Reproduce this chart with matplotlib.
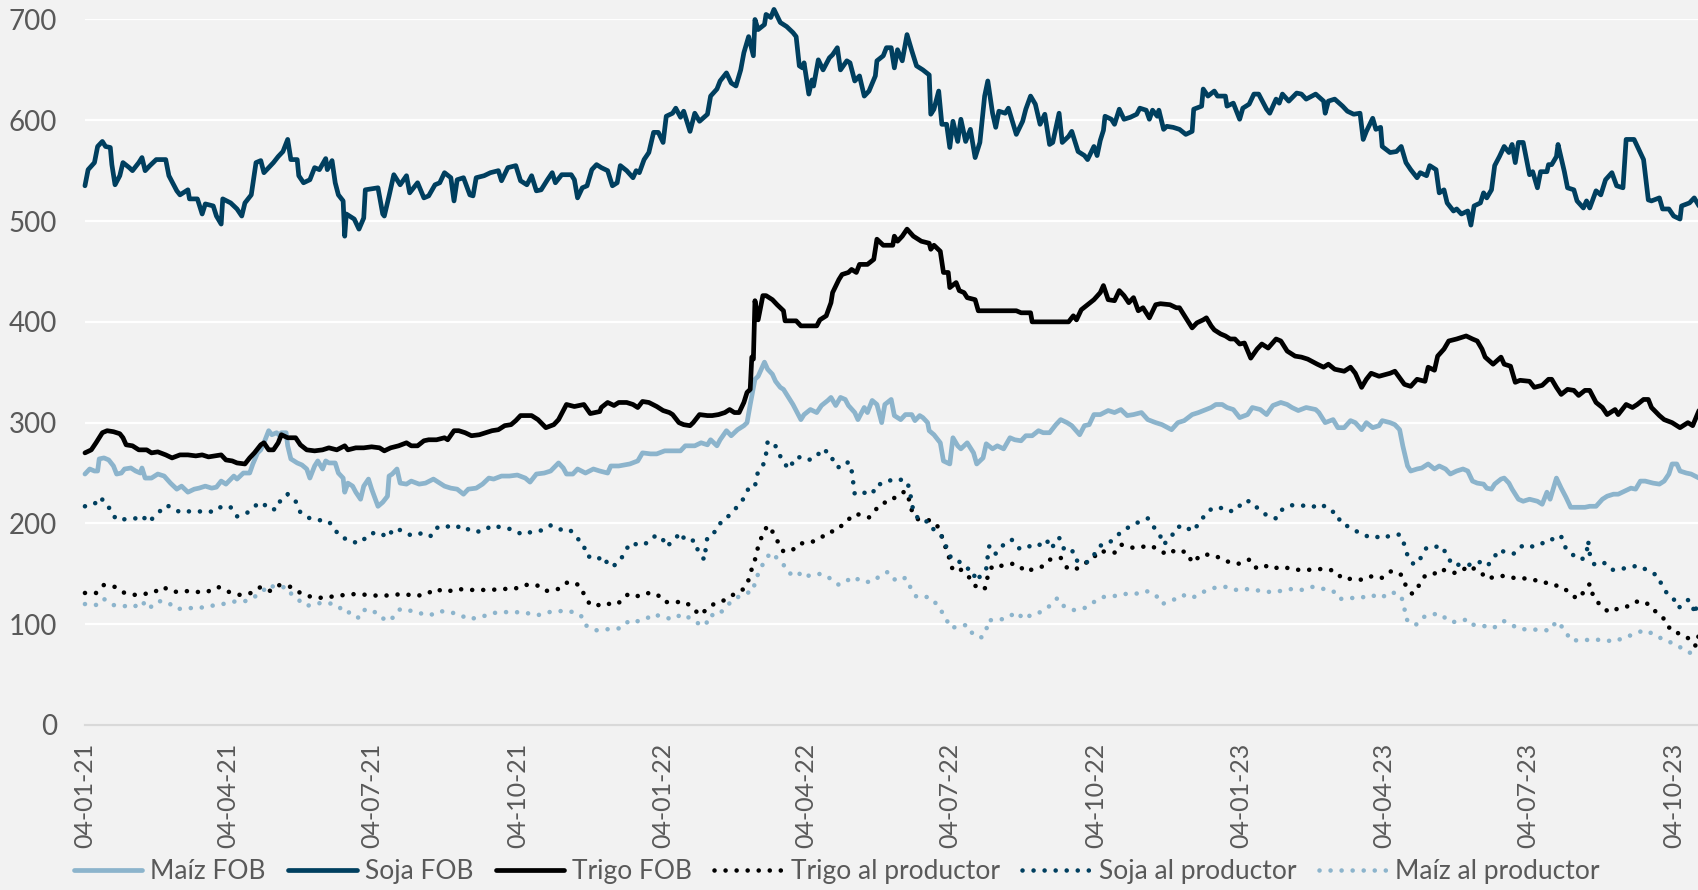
import pandas as pd
import matplotlib
matplotlib.use('Agg')
import matplotlib.pyplot as plt

plt.rcParams['font.family'] = ['Lato', 'DejaVu Sans']

#==========================
# DATOS (dias desde 04-01-21, US$/t)
#==========================
inicio = pd.Timestamp('2021-01-04')
ultimo_dia = 1019

etiquetas_x = ['04-01-21', '04-04-21', '04-07-21', '04-10-21', '04-01-22', '04-04-22',
               '04-07-22', '04-10-22', '04-01-23', '04-04-23', '04-07-23', '04-10-23']
ticks_y = [0, 100, 200, 300, 400, 500, 600, 700]

maiz_fob = [(0,249),(3,254),(6,252),(8,252),(9,264),(12,265),(15,263),(18,257),(20,249),(23,250),
    (25,254),(29,255),(32,252),(35,250),(36,255),(38,245),(42,245),(46,249),(50,247),(54,240),
    (58,234),(61,237),(65,231),(69,234),(72,235),(76,237),(80,235),(83,236),(86,242),(89,239),
    (94,247),(96,244),(100,250),(104,250),(106,259),(109,270),(111,273),(113,280),(116,292),(118,288),
    (121,290),(123,287),(124,290),(127,290),(128,277),(130,264),(134,260),(137,258),(140,254),(142,245),
    (145,257),(147,262),(150,254),(152,262),(154,260),(158,260),(160,250),(163,245),(164,231),(166,240),
    (169,237),(171,231),(174,224),(176,237),(179,244),(181,234),(185,217),(188,221),(191,227),(192,247),
    (194,249),(197,254),(199,240),(203,239),(206,242),(211,239),(215,240),(220,244),(222,242),(227,237),
    (231,235),(235,234),(239,229),(242,234),(247,235),(251,239),(255,245),(258,244),(263,247),(268,247),
    (273,248),(278,245),(281,241),(285,249),(290,250),(294,252),(299,260),(302,255),(304,249),(308,249),
    (311,254),(316,250),(321,254),(325,252),(330,250),(332,257),(337,257),(344,259),(349,262),(352,270),
    (357,269),(361,269),(366,272),(373,272),(376,272),(379,277),(385,277),(389,280),(393,278),(395,283),
    (399,277),(401,283),(405,292),(408,287),(412,293),(416,297),(418,300),(420,318),(423,343),(425,346),
    (429,360),(431,353),(434,348),(436,341),(439,335),(441,333),(443,328),(447,318),(449,312),(452,303),
    (454,308),(458,313),(462,310),(465,317),(469,322),(471,325),(474,317),(477,325),(480,323),(482,317),
    (486,310),(488,303),(492,315),(494,310),(497,322),(500,318),(503,300),(505,318),(509,323),(511,307),
    (515,303),(518,308),(522,308),(524,302),(527,307),(529,305),(532,300),(533,292),(536,288),(540,280),
    (542,262),(546,259),(548,285),(551,277),(553,274),(557,280),(561,270),(563,259),(567,265),(569,279),
    (573,274),(576,277),(580,274),(584,285),(587,283),(591,282),(594,287),(598,287),(602,292),(605,290),
    (609,290),(613,298),(616,303),(620,300),(623,297),(628,288),(631,297),(634,298),(637,308),(641,308),
    (646,312),(650,310),(654,313),(658,307),(662,308),(667,310),(671,303),(676,300),(680,298),(686,293),
    (690,300),(694,302),(699,308),(703,310),(711,315),(714,318),(718,318),(721,315),(725,313),(729,305),
    (734,308),(737,315),(742,313),(746,308),(750,317),(755,320),(759,318),(762,315),(766,312),(771,315),
    (777,313),(779,310),(783,300),(788,303),(791,295),(795,295),(799,302),(802,300),(806,293),(809,300),
    (813,295),(817,297),(819,302),(824,300),(827,298),(830,293),(832,277),(835,257),(837,252),(841,254),
    (844,255),(848,259),(852,254),(855,257),(859,254),(862,249),(866,252),(870,254),(873,252),(876,242),
    (879,240),(883,239),(885,235),(888,234),(890,239),(894,244),(896,245),(899,240),(901,234),(905,224),
    (908,222),(912,224),(917,222),(920,219),(923,231),(925,224),(929,245),(932,235),(935,226),(938,216),
    (942,216),(947,216),(950,217),(954,217),(958,224),(961,227),(965,229),(968,229),(972,232),(976,235),
    (979,234),(982,242),(985,242),(990,240),(994,239),(997,242),(1000,249),(1002,259),(1005,259),(1007,252),
    (1011,250),(1014,249),(1019,245)]

soja_fob = [(0,535),(2,551),(6,558),(8,574),(11,579),(13,574),(16,573),(17,556),(19,536),(22,545),
    (24,558),(28,553),(30,550),(34,558),(36,563),(38,550),(41,555),(45,561),(51,561),(53,545),
    (58,530),(60,526),(65,531),(66,522),(71,522),(74,507),(76,517),(81,515),(83,505),(86,497),
    (87,522),(92,518),(96,512),(99,505),(101,518),(105,526),(108,558),(111,560),(113,548),(116,553),
    (119,558),(122,564),(125,569),(128,581),(130,561),(134,561),(135,545),(138,538),(142,541),(145,553),
    (148,551),(152,562),(153,551),(156,560),(158,538),(160,526),(163,520),(164,485),(165,507),(170,502),
    (173,492),(176,503),(177,531),(185,533),(188,507),(189,505),(192,525),(195,546),(199,536),(203,545),
    (205,528),(210,538),(214,523),(217,525),(221,536),(224,538),(227,548),(231,543),(233,520),(235,541),
    (239,543),(243,526),(245,525),(247,543),(252,545),(256,548),(261,550),(263,540),(267,553),(272,555),
    (275,540),(279,536),(282,545),(285,530),(288,531),(292,541),(295,548),(297,538),(301,546),(307,546),
    (309,541),(311,523),(314,533),(317,535),(320,551),(323,556),(326,553),(330,550),(333,535),(336,538),
    (338,555),(342,550),(346,543),(348,550),(350,548),(353,561),(356,568),(359,588),(362,588),(365,578),
    (367,604),(371,607),(373,612),(376,603),(378,609),(382,589),(385,607),(388,599),(393,606),(395,624),
    (399,631),(401,639),(405,647),(408,637),(411,634),(414,650),(416,667),(419,683),(422,664),(423,700),
    (425,690),(429,695),(430,705),(433,702),(435,710),(439,697),(443,693),(447,687),(449,683),(451,654),
    (453,652),(454,657),(457,626),(459,640),(460,634),(463,660),(466,650),(470,662),(472,665),(475,672),
    (477,650),(481,659),(483,657),(486,639),(489,644),(492,624),(495,629),(499,644),(500,659),(504,664),
    (506,672),(509,672),(511,652),(513,670),(516,659),(519,685),(522,669),(525,654),(529,650),(533,645),
    (534,606),(536,611),(539,629),(541,596),(544,596),(546,573),(548,599),(551,579),(553,601),(556,579),
    (559,591),(562,563),(565,578),(568,624),(570,639),(573,607),(575,593),(577,609),(581,607),(583,612),
    (588,586),(592,599),(594,611),(597,624),(600,616),(603,596),(606,606),(609,576),(611,578),(615,607),
    (617,578),(621,584),(623,589),(627,569),(631,565),(633,561),(637,574),(639,565),(641,580),(643,590),
    (644,604),(648,601),(650,596),(653,611),(656,601),(660,603),(664,606),(666,612),(670,610),(672,601),
    (674,610),(677,604),(678,610),(681,591),(683,594),(687,593),(691,591),(695,586),(699,589),(700,611),
    (705,614),(706,631),(709,624),(713,629),(715,624),(720,624),(721,614),(725,617),(729,601),(731,612),
    (735,616),(738,626),(741,626),(746,611),(748,607),(752,621),(754,617),(756,626),(760,619),(765,627),
    (768,626),(771,621),(777,626),(782,619),(783,607),(785,619),(789,621),(794,614),(797,609),(801,606),
    (805,607),(807,581),(809,589),(813,602),(815,591),(818,593),(819,574),(824,568),(828,569),(831,574),
    (834,558),(837,551),(841,543),(843,548),(847,545),(849,555),(853,551),(855,528),(858,531),(860,518),
    (864,510),(866,512),(869,507),(873,510),(875,496),(877,515),(881,518),(883,528),(885,523),(888,531),
    (890,555),(893,564),(896,574),(899,568),(901,576),(903,558),(905,578),(908,578),(912,546),(914,549),
    (917,533),(919,549),(923,549),(924,556),(926,556),(929,564),(930,576),(934,549),(936,533),(940,531),
    (942,520),(946,513),(948,520),(950,513),(954,530),(957,526),(960,541),(964,548),(967,535),(971,533),
    (973,581),(978,581),(981,571),(984,561),(987,521),(989,520),(994,523),(996,512),(1000,512),(1003,505),
    (1007,502),(1008,515),(1013,518),(1016,523),(1019,515)]

trigo_fob = [(0,270),(4,273),(7,280),(11,290),(14,292),(18,291),(22,289),(24,285),(26,278),(30,277),
    (34,273),(39,273),(42,270),(46,271),(51,268),(55,265),(60,268),(65,268),(70,267),(74,268),
    (78,266),(82,267),(86,268),(89,263),(93,262),(96,260),(101,259),(104,265),(107,270),(111,278),
    (113,280),(116,273),(119,273),(122,280),(124,288),(128,285),(133,285),(136,278),(140,273),(145,272),
    (150,273),(154,275),(159,273),(164,277),(166,273),(171,275),(176,275),(181,276),(186,275),(189,272),
    (193,275),(198,277),(203,280),(206,277),(210,277),(214,282),(217,283),(222,283),(227,285),(229,283),
    (233,292),(236,292),(240,290),(244,287),(249,288),(253,290),(257,292),(261,293),(265,297),(269,298),
    (272,302),(275,307),(282,307),(286,303),(291,295),(296,298),(299,303),(304,318),(309,316),(315,318),
    (319,309),(325,311),(326,315),(330,320),(334,317),(337,320),(342,320),(346,318),(349,315),(352,321),
    (356,320),(361,316),(365,312),(369,310),(371,308),(375,300),(378,298),(382,297),(384,300),(388,308),
    (393,307),(396,307),(400,308),(404,310),(407,313),(410,310),(413,310),(416,320),(418,330),(420,333),
    (421,365),(422,363),(423,421),(425,402),(428,426),(430,426),(434,422),(437,417),(441,411),(442,401),
    (449,401),(452,396),(462,396),(464,402),(468,406),(471,419),(472,429),(476,442),(478,447),(482,449),
    (484,452),(487,449),(489,457),(494,457),(498,462),(500,482),(504,476),(510,476),(511,485),(513,480),
    (516,485),(519,492),(523,485),(528,480),(533,478),(534,472),(536,476),(540,470),(542,449),(545,449),
    (546,434),(550,439),(552,431),(555,429),(557,424),(562,422),(564,411),(588,411),(591,409),(597,409),
    (598,400),(621,400),(624,406),(626,402),(629,412),(637,422),(641,429),(643,436),(646,422),(650,421),
    (653,431),(656,426),(659,419),(662,424),(665,411),(668,414),(672,404),(676,417),(679,418),(685,417),
    (689,414),(691,414),(695,404),(699,394),(702,399),(706,402),(708,404),(711,396),(713,392),(717,388),
    (720,386),(723,383),(726,383),(729,378),(732,379),(736,364),(740,373),(743,378),(747,374),(752,383),
    (755,381),(759,371),(764,366),(768,365),(772,363),(778,358),(782,355),(785,358),(789,353),(795,351),
    (799,355),(802,349),(806,335),(809,343),(812,349),(817,346),(824,349),(827,351),(833,338),(837,336),
    (841,343),(846,341),(848,355),(852,352),(854,366),(858,373),(861,381),(866,383),(872,386),(876,383),
    (879,381),(882,373),(884,365),(889,358),(894,365),(896,358),(900,356),(903,340),(906,342),(912,341),
    (915,335),(920,337),(924,343),(926,343),(929,335),(932,328),(936,333),(940,332),(943,327),(947,332),
    (950,332),(954,320),(958,315),(961,308),(966,313),(968,308),(973,318),(977,315),(980,318),(984,323),
    (987,323),(989,315),(994,307),(997,303),(1002,300),(1007,295),(1012,300),(1015,297),(1019,312)]

trigo_productor = [(0,131),(7,131),(12,139),(19,137),(25,131),(32,129),(37,130),(43,131),(49,137),(56,132),
    (63,133),(70,132),(77,132),(84,137),(91,132),(98,129),(105,131),(111,137),(117,133),(123,139),
    (130,137),(136,131),(143,127),(151,126),(158,128),(164,129),(171,130),(179,129),(187,128),(194,129),
    (201,130),(209,128),(216,130),(221,135),(228,132),(235,135),(242,134),(249,134),(256,134),(264,135),
    (271,135),(278,139),(285,139),(291,133),(299,135),(305,142),(312,139),(315,130),(319,119),(325,119),
    (330,121),(332,119),(338,122),(343,130),(349,128),(354,131),(361,130),(366,122),(372,122),(379,122),
    (384,116),(388,109),(392,114),(397,120),(404,124),(410,130),(416,135),(419,144),(421,155),(423,164),
    (425,177),(428,190),(431,198),(434,192),(437,183),(441,172),(447,174),(451,180),(458,181),(464,185),
    (470,192),(473,192),(477,197),(481,201),(484,208),(489,209),(495,206),(500,215),(503,220),(509,222),
    (512,227),(518,232),(520,225),(522,213),(526,204),(534,203),(538,198),(541,187),(546,164),(548,153),
    (553,154),(558,147),(561,139),(567,134),(569,137),(570,149),(573,158),(579,158),(585,160),(589,159),
    (594,152),(599,155),(604,157),(609,164),(616,166),(620,156),(625,154),(631,160),(636,165),(641,173),
    (646,171),(650,171),(654,179),(661,176),(665,176),(672,178),(674,177),(679,173),(683,169),(689,174),
    (696,171),(699,161),(705,169),(711,169),(718,165),(723,161),(729,160),(735,164),(739,156),(744,159),
    (749,155),(756,157),(764,154),(769,154),(775,154),(782,155),(789,153),(794,145),(800,145),(807,144),
    (813,148),(819,146),(825,153),(831,149),(834,138),(838,130),(842,138),(846,148),(851,149),(856,155),
    (862,151),(867,151),(874,158),(877,155),(881,152),(885,145),(890,147),(896,148),(902,146),(907,146),
    (913,144),(920,143),(925,139),(931,138),(937,132),(942,125),(947,133),(950,140),(952,129),(956,120),
    (962,112),(967,115),(973,117),(978,122),(983,123),(988,119),(993,110),(998,104),(1001,94),(1006,91),
    (1011,87),(1015,84),(1017,78),(1019,90)]

soja_productor = [(0,217),(6,219),(9,226),(14,220),(17,209),(21,203),(28,205),(32,205),(36,208),(40,201),
    (46,210),(51,218),(55,216),(60,211),(66,212),(72,212),(77,211),(84,213),(86,217),(92,216),
    (96,207),(102,210),(108,218),(112,221),(116,214),(121,214),(124,225),(128,229),(133,222),(136,211),
    (142,205),(149,203),(154,202),(158,193),(163,185),(166,185),(172,180),(176,184),(180,190),(186,191),
    (191,186),(195,195),(200,193),(206,188),(212,190),(218,187),(221,195),(227,198),(233,195),(238,198),
    (244,192),(251,192),(257,198),(263,196),(270,194),(276,189),(283,192),(288,193),(294,198),(299,194),
    (306,194),(311,185),(315,179),(316,169),(322,164),(328,167),(330,159),(333,157),(338,163),(341,173),
    (345,181),(350,178),(354,180),(359,187),(364,187),(367,177),(371,182),(376,191),(379,183),(385,183),
    (387,173),(391,164),(392,176),(393,187),(399,193),(402,203),(407,208),(412,217),(416,225),(419,235),
    (423,236),(424,248),(428,257),(430,269),(431,281),(435,280),(438,270),(441,260),(445,254),(448,265),
    (453,266),(457,263),(462,266),(465,274),(471,269),(473,258),(477,255),(482,261),(484,253),(485,241),
    (486,229),(490,231),(497,229),(500,239),(504,239),(510,244),(513,244),(519,242),(521,231),(522,218),
    (525,207),(528,202),(532,202),(534,196),(538,192),(541,187),(544,176),(547,165),(552,162),(556,156),
    (561,153),(562,143),(567,150),(569,155),(570,168),(571,178),(575,170),(580,179),(585,184),(590,175),
    (594,175),(598,179),(602,178),(607,184),(610,175),(615,186),(618,175),(623,175),(625,164),(631,160),
    (635,164),(641,178),(645,179),(650,185),(655,193),(660,197),(666,202),(671,205),(675,196),(679,187),
    (681,179),(686,187),(689,196),(694,198),(699,192),(704,201),(708,211),(713,216),(719,215),(722,212),
    (727,213),(731,222),(736,222),(741,214),(747,207),(752,205),(756,214),(762,218),(768,218),(774,216),
    (781,219),(786,212),(790,211),(793,200),(799,196),(804,191),(810,187),(813,188),(819,185),(824,188),
    (830,189),(833,179),(835,168),(839,159),(843,165),(847,176),(851,176),(856,178),(860,169),(863,159),
    (869,159),(874,159),(878,159),(882,163),(886,159),(889,165),(893,174),(897,171),(902,170),(905,176),
    (910,179),(914,177),(918,180),(924,181),(929,188),(932,187),(935,175),(940,168),(945,164),(948,170),
    (949,183),(950,170),(953,159),(959,161),(964,154),(968,154),(976,157),(981,158),(987,153),(993,148),
    (996,137),(1000,128),(1003,125),(1006,116),(1012,124),(1015,120),(1016,110),(1019,125)]

maiz_productor = [(0,120),(8,119),(12,125),(18,119),(25,118),(31,117),(36,123),(40,115),(46,123),(52,122),
    (58,115),(65,116),(72,116),(78,118),(84,119),(90,121),(96,123),(102,123),(108,128),(113,134),
    (116,139),(121,136),(127,137),(129,132),(134,125),(140,118),(144,120),(149,121),(154,121),(160,118),
    (164,111),(168,112),(173,106),(177,115),(185,111),(190,103),(195,107),(199,115),(204,114),(211,111),
    (218,109),(224,113),(230,112),(236,110),(242,105),(250,107),(257,111),(264,112),(272,112),(279,111),
    (286,109),(293,112),(300,113),(306,113),(313,109),(316,99),(323,94),(328,95),(332,95),(338,96),
    (344,104),(349,103),(355,106),(359,110),(365,107),(371,105),(377,110),(382,106),(387,101),(392,99),
    (394,109),(400,109),(405,118),(410,125),(416,130),(422,133),(423,143),(429,163),(433,171),(436,167),
    (441,159),(445,150),(449,153),(454,146),(458,149),(465,150),(471,145),(476,139),(482,144),(485,147),
    (491,142),(497,142),(502,148),(507,152),(512,143),(518,146),(521,137),(525,127),(532,127),(535,125),
    (540,115),(544,104),(547,96),(553,99),(557,99),(561,89),(566,87),(569,93),(570,104),(576,104),
    (582,106),(588,112),(593,105),(598,110),(602,111),(609,118),(614,126),(618,118),(624,114),(631,116),
    (637,122),(643,127),(650,128),(656,130),(663,130),(670,133),(676,129),(680,120),(687,124),(693,129),
    (699,126),(706,132),(713,136),(720,137),(726,134),(732,135),(738,134),(743,133),(748,132),(755,133),
    (762,135),(768,134),(775,137),(782,135),(788,133),(792,125),(798,126),(805,126),(812,129),(818,126),
    (825,132),(831,128),(833,116),(834,105),(840,99),(845,107),(850,110),(856,110),(861,103),(866,102),
    (873,105),(877,99),(884,98),(889,96),(896,103),(901,99),(906,95),(913,95),(920,94),(925,94),
    (929,103),(934,95),(938,84),(946,84),(952,85),(959,84),(966,83),(972,87),(978,90),(984,94),
    (991,90),(997,84),(1001,82),(1006,78),(1011,74),(1015,70),(1019,71)]

#==========================
# ESTILOS
#==========================
FONDO = '#f2f2f2'
TEXTO = '#595959'
AZUL_CLARO = '#8cb4cc'
AZUL_OSCURO = '#003f5f'
NEGRO = '#000000'

punteado = (0, (0.01, 2.4))
series = [
    (maiz_fob, 'Maíz FOB', AZUL_CLARO, '-'),
    (soja_fob, 'Soja FOB', AZUL_OSCURO, '-'),
    (trigo_fob, 'Trigo FOB', NEGRO, '-'),
    (trigo_productor, 'Trigo al productor', NEGRO, punteado),
    (soja_productor, 'Soja al productor', AZUL_OSCURO, punteado),
    (maiz_productor, 'Maíz al productor', AZUL_CLARO, punteado),
]

def a_fechas(dias):
    return inicio + pd.to_timedelta(dias, unit='D')

fig = plt.figure(figsize=(16.99, 8.90), dpi=100, facecolor=FONDO)
ax = fig.add_axes([0.05, 0.1854, 0.95, 0.7927])
ax.set_facecolor(FONDO)

for datos, nombre, color, estilo in series:
    dias = [d for d, v in datos]
    vals = [v for d, v in datos]
    if estilo == '-':
        ax.plot(a_fechas(dias), vals, color=color, lw=3.4, ls='-', label=nombre,
                solid_joinstyle='round', solid_capstyle='round', clip_on=False)
    else:
        ax.plot(a_fechas(dias), vals, color=color, lw=3.3, ls=estilo, label=nombre,
                dash_capstyle='round', clip_on=False)

ax.set_ylim(0, 700)
ax.set_yticks(ticks_y)
ax.set_xlim(inicio, a_fechas(ultimo_dia))
fechas_x = pd.to_datetime(etiquetas_x, format='%d-%m-%y')
ax.set_xticks(fechas_x)
ax.set_xticklabels(etiquetas_x, rotation=90)

ax.grid(True, axis='y', color='white', lw=1.6)
ax.set_axisbelow(True)
for lado in ['top', 'right', 'left']:
    ax.spines[lado].set_visible(False)
ax.spines['bottom'].set_color('#d9d9d9')
ax.spines['bottom'].set_linewidth(1.6)
ax.tick_params(axis='both', length=0, labelcolor=TEXTO)
ax.tick_params(axis='y', pad=20, labelsize=20)
ax.tick_params(axis='x', pad=13, labelsize=18)

ley = fig.legend(loc='center', bbox_to_anchor=(0.4925, 0.021), ncol=6, frameon=False,
                 fontsize=19, handlelength=2.6, handletextpad=0.3, columnspacing=0.85)
for t in ley.get_texts():
    t.set_color(TEXTO)

fig.savefig('out.png', dpi=100, facecolor=FONDO)
